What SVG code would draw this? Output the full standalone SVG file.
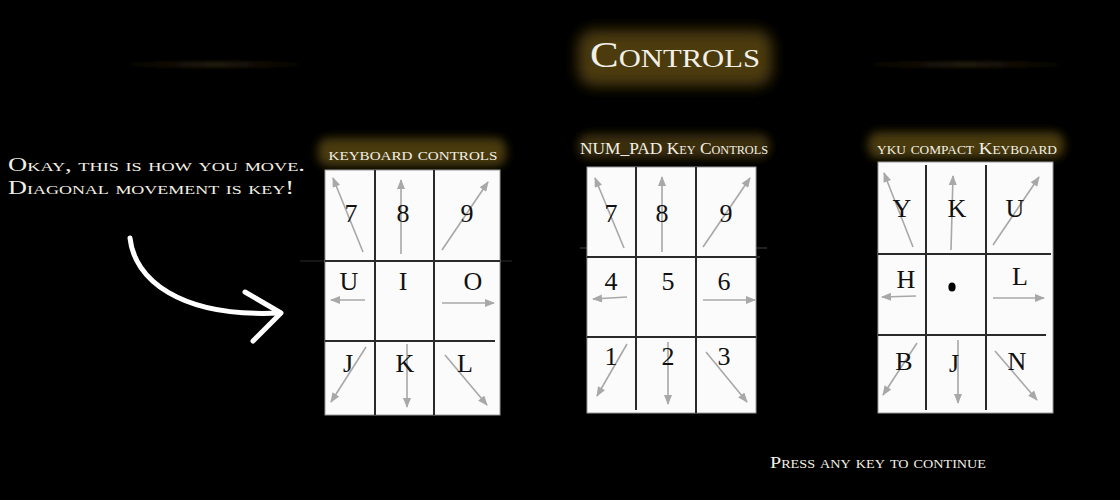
<svg xmlns="http://www.w3.org/2000/svg" width="1120" height="500" viewBox="0 0 1120 500">
<defs>
<style>
.sc{font-family:"Liberation Serif","Times New Roman",serif;font-variant:small-caps;fill:#f2f0e6}
.key{font-family:"Liberation Serif","Times New Roman",serif;font-size:26px;fill:#111;text-anchor:middle}
.pad{fill:#fbfbfb;stroke:#9a9a9a;stroke-width:1}
.grid{stroke:#2a2a2a;stroke-width:2;fill:none}
.arr{stroke:#a8a8a8;stroke-width:1.6;fill:none;marker-end:url(#ah)}
</style>
<marker id="ah" viewBox="0 0 10 8" refX="9" refY="4" markerWidth="11" markerHeight="8" markerUnits="userSpaceOnUse" orient="auto">
<path d="M0,0 L10,4 L0,8 Z" fill="#a8a8a8"/>
</marker>
<filter id="blur8" x="-50%" y="-50%" width="200%" height="200%"><feGaussianBlur stdDeviation="7"/></filter>
<filter id="blur5" x="-50%" y="-50%" width="200%" height="200%"><feGaussianBlur stdDeviation="5"/></filter>
<filter id="blur2" x="-50%" y="-50%" width="200%" height="200%"><feGaussianBlur stdDeviation="2"/></filter>
<linearGradient id="lineL" x1="0" x2="1"><stop offset="0" stop-color="#2a210b" stop-opacity="0"/><stop offset="0.5" stop-color="#2a210b"/><stop offset="1" stop-color="#2a210b" stop-opacity="0"/></linearGradient>
</defs>
<rect width="1120" height="500" fill="#000"/>

<g id="title">
<rect x="120" y="62" width="190" height="5" fill="url(#lineL)" filter="url(#blur2)"/>
<rect x="860" y="62" width="210" height="5" fill="url(#lineL)" filter="url(#blur2)"/>
<rect x="578" y="30" width="194" height="56" rx="16" fill="#4c3b0e" filter="url(#blur8)"/>
<text class="sc" x="675" y="67" font-size="35" text-anchor="middle" textLength="170" lengthAdjust="spacingAndGlyphs">Controls</text>
</g>

<g id="intro">
<text class="sc" x="8" y="171" font-size="19" textLength="297" lengthAdjust="spacingAndGlyphs">Okay, this is how you move.</text>
<text class="sc" x="8" y="194" font-size="19" textLength="286" lengthAdjust="spacingAndGlyphs">Diagonal movement is key!</text>
</g>

<g id="connectors">
<path d="M130,238 C134,278 178,318 280,313" stroke="#fff" stroke-width="5" fill="none" stroke-linecap="round"/>
<path d="M245,292 L281,313 L253,341" stroke="#fff" stroke-width="5" fill="none" stroke-linecap="round" stroke-linejoin="round"/>
</g>

<g id="keyboard-controls">
<rect x="318" y="138" width="188" height="28" rx="10" fill="#4a3a10" filter="url(#blur5)"/>
<text class="sc" x="413" y="160" font-size="18" text-anchor="middle" textLength="169" lengthAdjust="spacingAndGlyphs">keyboard controls</text>
<line x1="300" y1="261" x2="512" y2="261" stroke="#2a2a2a" stroke-width="1"/>
<rect class="pad" x="325" y="170" width="175" height="245"/>
<line class="grid" x1="375" y1="170" x2="375" y2="415"/>
<line class="grid" x1="434" y1="170" x2="434" y2="415"/>
<line class="grid" x1="325" y1="261" x2="500" y2="261"/>
<line class="grid" x1="325" y1="341" x2="495" y2="341"/>
<line class="arr" x1="363" y1="252" x2="333" y2="178"/>
<line class="arr" x1="401" y1="254" x2="401" y2="180"/>
<line class="arr" x1="442" y1="250" x2="488" y2="182"/>
<line class="arr" x1="365" y1="300" x2="331" y2="300"/>
<line class="arr" x1="442" y1="303" x2="494" y2="303"/>
<line class="arr" x1="366" y1="347" x2="331" y2="402"/>
<line class="arr" x1="407" y1="344" x2="407" y2="407"/>
<line class="arr" x1="445" y1="355" x2="487" y2="405"/>
<text class="key" x="351" y="222">7</text>
<text class="key" x="403" y="222">8</text>
<text class="key" x="467" y="222">9</text>
<text class="key" x="349" y="290">U</text>
<text class="key" x="403" y="290">I</text>
<text class="key" x="473" y="290">O</text>
<text class="key" x="348" y="372">J</text>
<text class="key" x="405" y="372">K</text>
<text class="key" x="465" y="372">L</text>
</g>

<g id="numpad-controls">
<rect x="578" y="134" width="192" height="24" rx="10" fill="#3a2d0c" filter="url(#blur5)"/>
<text class="sc" x="674" y="154" font-size="17" text-anchor="middle" textLength="188" lengthAdjust="spacingAndGlyphs">NUM_PAD Key Controls</text>
<line x1="580" y1="248" x2="590" y2="248" stroke="#444"/>
<line x1="755" y1="248" x2="767" y2="248" stroke="#444"/>
<rect class="pad" x="587" y="167" width="169" height="246"/>
<line class="grid" x1="636" y1="167" x2="636" y2="410"/>
<line class="grid" x1="696" y1="167" x2="696" y2="413"/>
<line class="grid" x1="587" y1="257" x2="760" y2="257"/>
<line class="grid" x1="587" y1="337" x2="756" y2="337"/>
<line class="arr" x1="624" y1="248" x2="595" y2="178"/>
<line class="arr" x1="662" y1="252" x2="662" y2="177"/>
<line class="arr" x1="703" y1="247" x2="750" y2="178"/>
<line class="arr" x1="627" y1="297" x2="593" y2="299"/>
<line class="arr" x1="703" y1="300" x2="755" y2="300"/>
<line class="arr" x1="627" y1="344" x2="597" y2="396"/>
<line class="arr" x1="668" y1="342" x2="668" y2="404"/>
<line class="arr" x1="706" y1="352" x2="747" y2="402"/>
<text class="key" x="611" y="222">7</text>
<text class="key" x="662" y="222">8</text>
<text class="key" x="726" y="222">9</text>
<text class="key" x="611" y="290">4</text>
<text class="key" x="668" y="290">5</text>
<text class="key" x="724" y="290">6</text>
<text class="key" x="611" y="365">1</text>
<text class="key" x="668" y="365">2</text>
<text class="key" x="724" y="365">3</text>
</g>

<g id="yku-compact-keyboard">
<rect x="868" y="132" width="196" height="26" rx="10" fill="#4a3a10" filter="url(#blur5)"/>
<text class="sc" x="967" y="154" font-size="17" text-anchor="middle" textLength="180" lengthAdjust="spacingAndGlyphs">yku compact Keyboard</text>
<rect class="pad" x="878" y="162" width="175" height="251"/>
<line class="grid" x1="926" y1="165" x2="926" y2="410"/>
<line class="grid" x1="986" y1="165" x2="986" y2="410"/>
<line class="grid" x1="878" y1="254" x2="1051" y2="254"/>
<line class="grid" x1="878" y1="335" x2="1046" y2="335"/>
<line class="arr" x1="913" y1="247" x2="884" y2="173"/>
<line class="arr" x1="951" y1="250" x2="953" y2="176"/>
<line class="arr" x1="993" y1="245" x2="1039" y2="177"/>
<line class="arr" x1="916" y1="296" x2="882" y2="297"/>
<line class="arr" x1="993" y1="298" x2="1044" y2="298"/>
<line class="arr" x1="917" y1="343" x2="883" y2="395"/>
<line class="arr" x1="958" y1="340" x2="958" y2="403"/>
<line class="arr" x1="995" y1="351" x2="1037" y2="400"/>
<text class="key" x="902" y="217">Y</text>
<text class="key" x="957" y="217">K</text>
<text class="key" x="1015" y="217">U</text>
<text class="key" x="906" y="288">H</text>
<ellipse cx="952" cy="287" rx="3.6" ry="4.5" fill="#000"/>
<text class="key" x="1020" y="285">L</text>
<text class="key" x="904" y="370">B</text>
<text class="key" x="954" y="372">J</text>
<text class="key" x="1017" y="370">N</text>
</g>

<g id="footer">
<text class="sc" x="878" y="468" font-size="17" text-anchor="middle" textLength="216" lengthAdjust="spacingAndGlyphs">Press any key to continue</text>
</g>
</svg>
